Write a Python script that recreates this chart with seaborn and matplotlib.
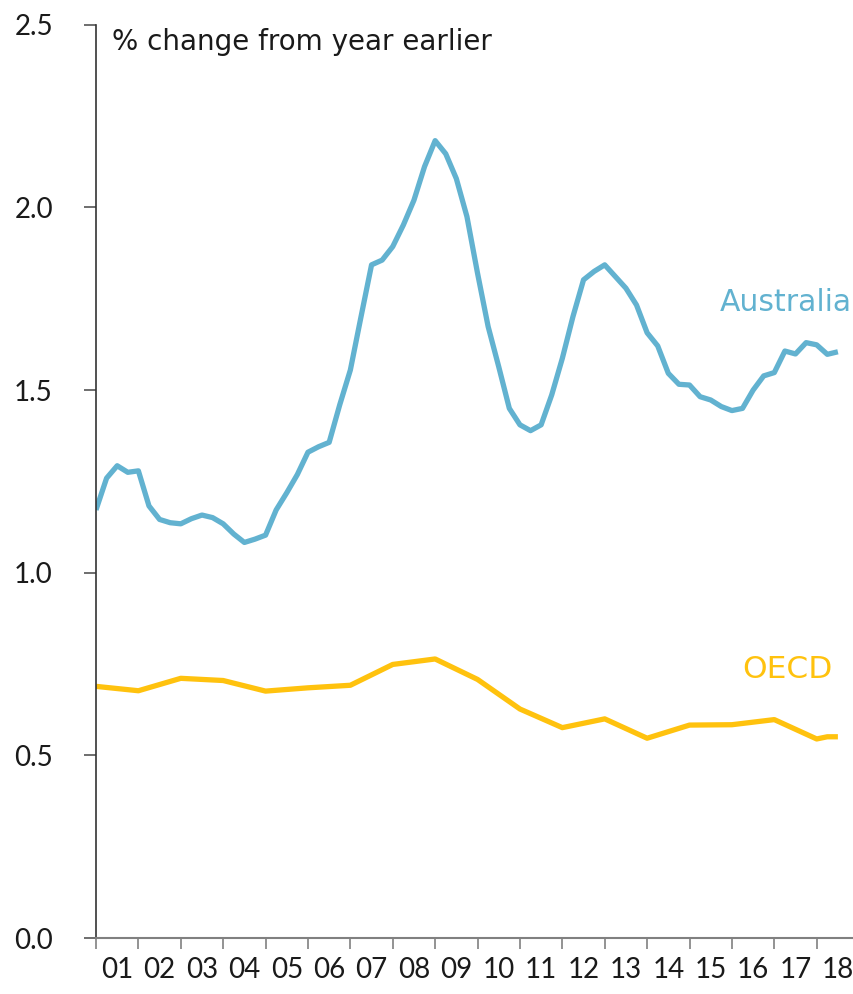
import numpy as np
import pandas as pd
import matplotlib
matplotlib.use('Agg')
import matplotlib.pyplot as plt
import matplotlib.ticker as mticker
import seaborn as sns

# quarterly Australia series, 2001 Q1 .. 2018 Q3
aus_vals = [1.172, 1.259, 1.293, 1.275, 1.279, 1.183, 1.146, 1.137, 1.134, 1.148,
            1.158, 1.151, 1.134, 1.106, 1.083, 1.092, 1.103, 1.172, 1.219, 1.269,
            1.330, 1.345, 1.357, 1.460, 1.555, 1.700, 1.843, 1.856, 1.893, 1.952,
            2.020, 2.112, 2.183, 2.147, 2.079, 1.975, 1.820, 1.674, 1.564, 1.450,
            1.405, 1.389, 1.405, 1.487, 1.587, 1.701, 1.802, 1.825, 1.843, 1.811,
            1.779, 1.733, 1.657, 1.621, 1.546, 1.516, 1.514, 1.482, 1.473, 1.455,
            1.444, 1.450, 1.500, 1.539, 1.548, 1.607, 1.599, 1.630, 1.624, 1.598,
            1.605]
aus_x = [2001 + 0.25 * i for i in range(len(aus_vals))]

# OECD, annual then quarterly at the end
oecd_x = [2001, 2002, 2003, 2004, 2005, 2006, 2007, 2008, 2009, 2010, 2011,
          2012, 2013, 2014, 2015, 2016, 2017, 2018, 2018.25, 2018.5]
oecd_vals = [0.689, 0.677, 0.711, 0.705, 0.676, 0.685, 0.692, 0.749, 0.764, 0.708,
             0.627, 0.576, 0.600, 0.547, 0.583, 0.584, 0.598, 0.545, 0.551, 0.551]

year_labels = ['01', '02', '03', '04', '05', '06', '07', '08', '09', '10',
               '11', '12', '13', '14', '15', '16', '17', '18']

aus_col = '#62B2D0'
oecd_col = '#FFC20E'

df = pd.concat([
    pd.DataFrame({'x': aus_x, 'y': aus_vals, 'series': 'Australia'}),
    pd.DataFrame({'x': oecd_x, 'y': oecd_vals, 'series': 'OECD'}),
])

sns.set_style('white')
plt.rcParams['font.family'] = ['Lato', 'DejaVu Sans']

fig = plt.figure(figsize=(8.54, 9.94), dpi=100)
ax = fig.add_axes([0.1124, 0.0563, 0.8876, 0.9187])

sns.lineplot(data=df, x='x', y='y', hue='series',
             palette={'Australia': aus_col, 'OECD': oecd_col},
             linewidth=3.8, legend=False, ax=ax, solid_capstyle='butt')

ax.set_xlim(2001, 2018.88)
ax.set_ylim(0, 2.5)
ax.set_xlabel('')
ax.set_ylabel('')

# year boundaries as ticks, labels centred in each year
ax.set_xticks(np.arange(2001, 2019))
ax.set_xticklabels([])
ax.set_xticks(np.arange(2001, 2019) + 0.5, minor=True)
ax.set_xticklabels(year_labels, minor=True)
ax.tick_params(axis='x', which='major', direction='out', length=8, width=1.2,
               color='#808080', bottom=True)
ax.tick_params(axis='x', which='minor', length=0, pad=14, labelsize=20,
               labelcolor='#1a1a1a')

ax.set_yticks(np.arange(0, 2.51, 0.5))
ax.yaxis.set_major_formatter(mticker.FormatStrFormatter('%.1f'))
ax.tick_params(axis='y', direction='out', length=9, width=1.2, color='#555555',
               left=True, pad=22, labelsize=20, labelcolor='#1a1a1a')

sns.despine(ax=ax, top=True, right=True)
ax.spines['left'].set_color('#333333')
ax.spines['left'].set_linewidth(1.2)
ax.spines['bottom'].set_color('#808080')
ax.spines['bottom'].set_linewidth(1.5)

label_font = ['DejaVu Sans']
ax.text(2001.38, 2.453, '% change from year earlier', fontsize=20, color='#1a1a1a',
        va='center', ha='left', family=label_font)
ax.text(2018.82, 1.739, 'Australia', fontsize=21.5, color=aus_col, ha='right',
        va='center', family=label_font)
ax.text(2018.38, 0.734, 'OECD', fontsize=22.5, color=oecd_col, ha='right',
        va='center', family=label_font)

fig.savefig('out.png', dpi=100)
